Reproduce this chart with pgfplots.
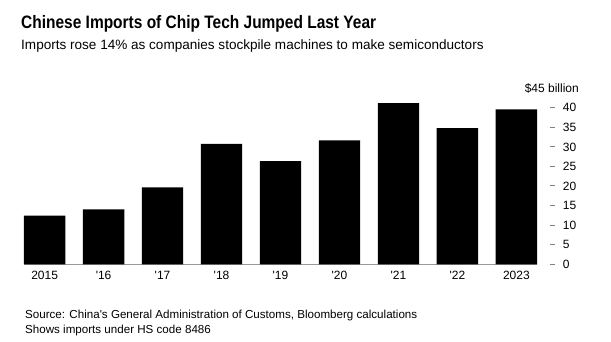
\documentclass[border=0pt]{standalone}
\usepackage{pgfplots}
\pgfplotsset{compat=1.18}
\usepackage{pgfplotstable}
\usepackage{fontspec}
\setmainfont{Liberation Sans}
\newfontfamily\titlefont{Liberation Sans}[FakeStretch=0.86]
\pgfplotstableread{
x y
0 12.5
1 14.1
2 19.7
3 30.8
4 26.4
5 31.7
6 41.2
7 34.8
8 39.6
}\imports
\begin{document}
\begin{tikzpicture}[x=1pt,y=1pt]
\useasboundingbox (0,0) rectangle (611,342);
\node[anchor=base west, inner sep=0] at (21,313.7) {\titlefont\bfseries\fontsize{18}{20}\selectfont Chinese Imports of Chip Tech Jumped Last Year};
\node[anchor=base west, inner sep=0] at (21,292.7) {\fontsize{13.55}{15}\selectfont Imports rose 14\% as companies stockpile machines to make semiconductors};
\node[anchor=base west, inner sep=0] at (25,23.7) {\fontsize{11.6}{13}\selectfont Source: China\textquotesingle s General Administration of Customs, Bloomberg calculations};
\node[anchor=base west, inner sep=0] at (25,8.5) {\fontsize{11.6}{13}\selectfont Shows imports under HS code 8486};
\begin{axis}[
  at={(24pt,77.5pt)}, anchor=south west,
  scale only axis, width=513pt, height=176.3pt,
  xmin=-0.35, xmax=8.35, ymin=0, ymax=45,
  axis x line*=bottom, axis y line*=right,
  x axis line style={draw=gray!80, line width=1pt, -},
  y axis line style={draw=none},
  clip=false,
  xtick=data,
  xticklabels={2015,\textquotesingle16,\textquotesingle17,\textquotesingle18,\textquotesingle19,\textquotesingle20,\textquotesingle21,\textquotesingle22,2023},
  xticklabel style={font=\fontsize{12}{12}\selectfont, anchor=base, yshift=-15.5pt},
  ytick={0,5,...,40},
  major tick length=0pt,
  tick style={draw=none},
  yticklabel={\textcolor{gray}{\rule[3.8pt]{5pt}{1pt}}\hspace{7.7pt}\pgfmathprintnumber{\tick}},
  yticklabel style={font=\fontsize{12}{12}\selectfont, anchor=west, inner sep=0pt, xshift=13pt},
  /pgf/number format/assume math mode=true,
]
\addplot[ybar, bar width=41.3pt, bar shift=0pt, fill=black, draw=none] table[x=x,y=y] {\imports};
\node[anchor=east, inner sep=0, font=\fontsize{12}{12}\selectfont] at (axis cs:8.35,45) [xshift=42pt] {\$45 billion};
\end{axis}
\end{tikzpicture}
\end{document}
